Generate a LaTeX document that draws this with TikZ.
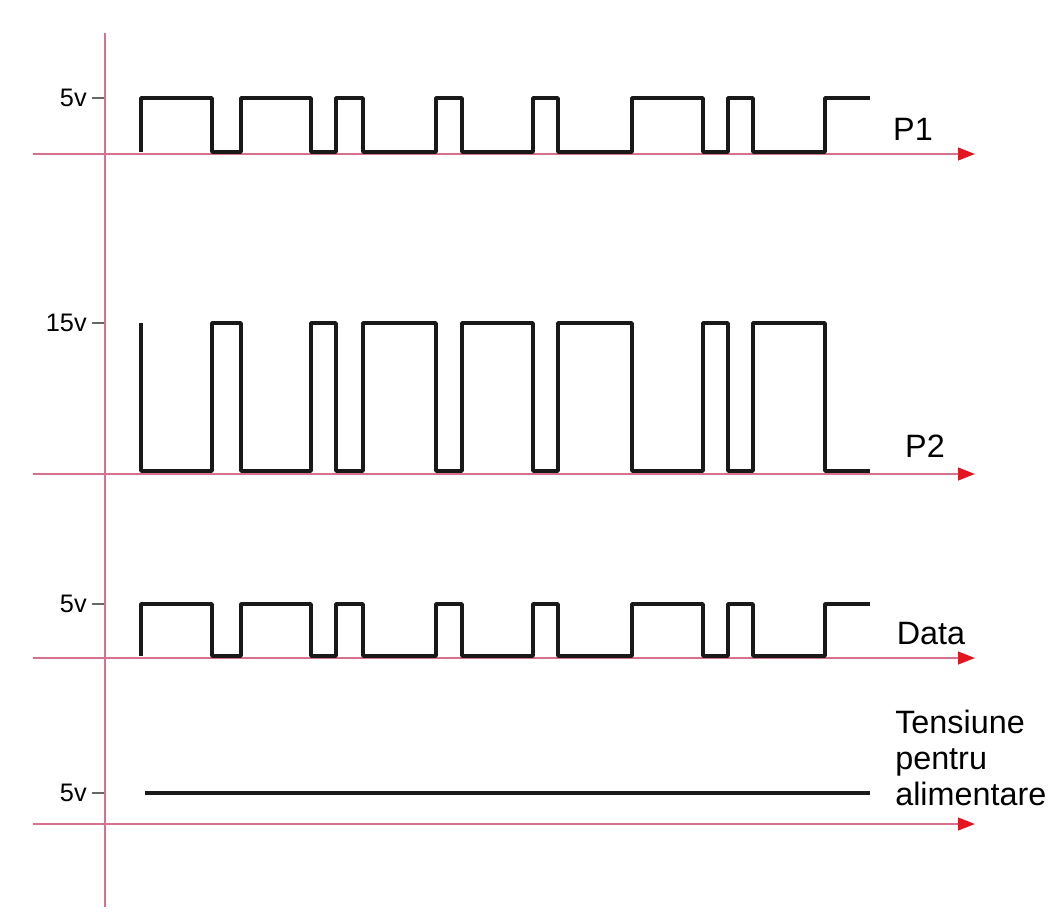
\documentclass[tikz,border=0pt]{standalone}
\usepackage{fontspec}
\setmainfont{Liberation Sans}
\usetikzlibrary{arrows.meta}
\usepackage{xcolor}
\definecolor{axispink}{RGB}{214,112,140}
\definecolor{arrowred}{RGB}{228,20,32}

% one pulse train, #1 = level at the start, #2 = the other level
\newcommand{\pulsetrain}[2]{%
  \draw[wave] (141,#1) |- (212,#2) |- (241,#1) |- (311,#2) |- (336,#1) |- (363,#2)
    |- (436,#1) |- (462,#2) |- (533,#1) |- (558,#2) |- (632,#1) |- (703,#2)
    |- (728,#1) |- (753,#2) |- (825,#1) |- (870,#2);}

\begin{document}
\begin{tikzpicture}[x=0.025cm, y=-0.025cm,
  axis/.style={draw=axispink, line width=1.3pt},
  taxis/.style={axis, -{Triangle[length=12pt, width=9pt, color=arrowred]}},
  wave/.style={draw=black!90, line width=2.5pt, line join=round},
  volt/.style={anchor=east, inner sep=0pt, font=\fontsize{18}{20}\selectfont},
  tickm/.style={draw=black!60, line width=0.9pt},
  lbl/.style={inner sep=0pt, font=\fontsize{23}{25}\selectfont}
]
  \useasboundingbox (0,0) rectangle (1064,913);

  % vertical axis
  \coordinate (vtop) at (105,33);
  \coordinate (vbot) at (105,907);
  \draw[axis] (vtop) -- (vbot);

  % horizontal axes
  \coordinate (p1s) at (33,154);   \coordinate (p1e) at (975,154);
  \coordinate (p2s) at (33,474);   \coordinate (p2e) at (975,474);
  \coordinate (dts) at (33,658);   \coordinate (dte) at (975,658);
  \coordinate (sus) at (33,824);   \coordinate (sue) at (975,824);
  \draw[taxis] (p1s) -- (p1e);
  \draw[taxis] (p2s) -- (p2e);
  \draw[taxis] (dts) -- (dte);
  \draw[taxis] (sus) -- (sue);

  % level marks
  \foreach \lv/\yy in {5v/98, 15v/323, 5v/604, 5v/793} {
    \draw[tickm] (92,\yy) -- (104,\yy);
    \node[volt] at (87,\yy) {\lv};
  }

  % signals
  \pulsetrain{152}{98}
  \pulsetrain{323}{471}
  \pulsetrain{656}{604}
  \draw[wave] (145,793) -- (870,793);

  % names
  \node[lbl] (np1) at (913,129) {P1};
  \node[lbl] (np2) at (925,446) {P2};
  \node[lbl] (ndata) at (931,634) {Data};
  \node[lbl, anchor=west, align=left, font=\fontsize{23}{25.5}\selectfont] (nsup) at (895,758)
    {Tensiune\\pentru\\alimentare};
\end{tikzpicture}
\end{document}
